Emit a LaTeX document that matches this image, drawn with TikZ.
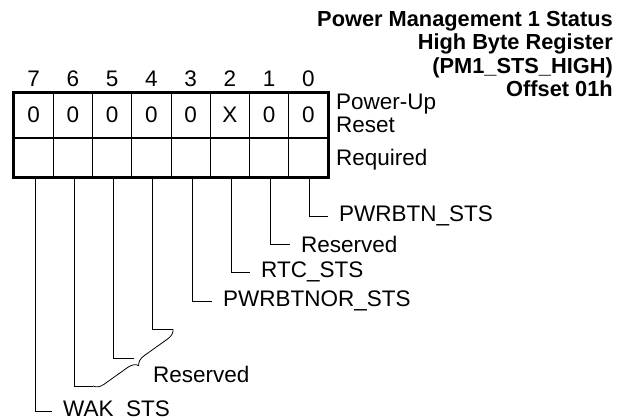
\documentclass[tikz,border=0pt]{standalone}
\usepackage{fontspec}
\setmainfont{Liberation Sans}
\usetikzlibrary{positioning,decorations.pathreplacing}

\tikzset{
  cell/.style={draw, line width=0.8pt, minimum width=39.25pt, inner sep=0pt},
  lbl/.style={anchor=west, inner xsep=11pt, inner ysep=1pt},
  wire/.style={line width=0.8pt}
}

\begin{document}
\begin{tikzpicture}[x=1pt, y=-1pt, font=\fontsize{22.5}{23.3}\selectfont]
    \useasboundingbox (0,0) rectangle (618,417);

    % Title
    \node[anchor=north east, align=right, inner sep=0pt, font=\bfseries\fontsize{21.8}{23.3}\selectfont]
        (title) at (613,11) {Power Management 1 Status\\High Byte Register\\(PM1\_STS\_HIGH)\\Offset 01h};

    % Bit numbers, reset values and required row
    \foreach \b/\v [count=\c from 0] in {7/0,6/0,5/0,4/0,3/0,2/X,1/0,0/0} {
        \node (n\b) at ({33.625+39.25*\c},79) {\b};
        \node[cell, minimum height=44.5pt] (v\b) at ({33.625+39.25*\c},115.25) {\v};
        \node[cell, minimum height=39.5pt] (r\b) at ({33.625+39.25*\c},157.25) {};
    }
    \draw[line width=2.5pt] (v7.north west) rectangle (r0.south east);
    \draw[line width=2.5pt] (v7.south west) -- (v0.south east);

    % Row labels
    \node[anchor=north west, align=left, inner sep=0pt] (pur) at (336,94) {Power-Up\\Reset};
    \node[anchor=west, inner sep=0pt] (req) at (336,160) {Required};

    % Field labels
    \node[lbl] (l0) at (328,216) {PWRBTN\_STS};
    \node[lbl] (l1) at (290,244) {Reserved};
    \node[lbl] (l2) at (250,272) {RTC\_STS};
    \node[lbl] (l3) at (212,301) {PWRBTNOR\_STS};
    \node[lbl] (l7) at (52,411) {WAK\_STS};
    \node[lbl, inner xsep=10pt] (lres) at (143,374) {Reserved};

    \coordinate (br4) at (173,329);
    \coordinate (br5) at (134,358);
    \coordinate (br6) at (93,386);

    % Connectors
    \foreach \b in {0,1,2,3,7} \draw[wire] ([xshift=1.5pt]r\b.south) |- (l\b.west);
    \foreach \b in {4,5,6} \draw[wire] ([xshift=1.5pt]r\b.south) |- (br\b);
    \draw[wire, decorate, decoration={brace, amplitude=10pt}] (br4) -- (br6);
\end{tikzpicture}
\end{document}
